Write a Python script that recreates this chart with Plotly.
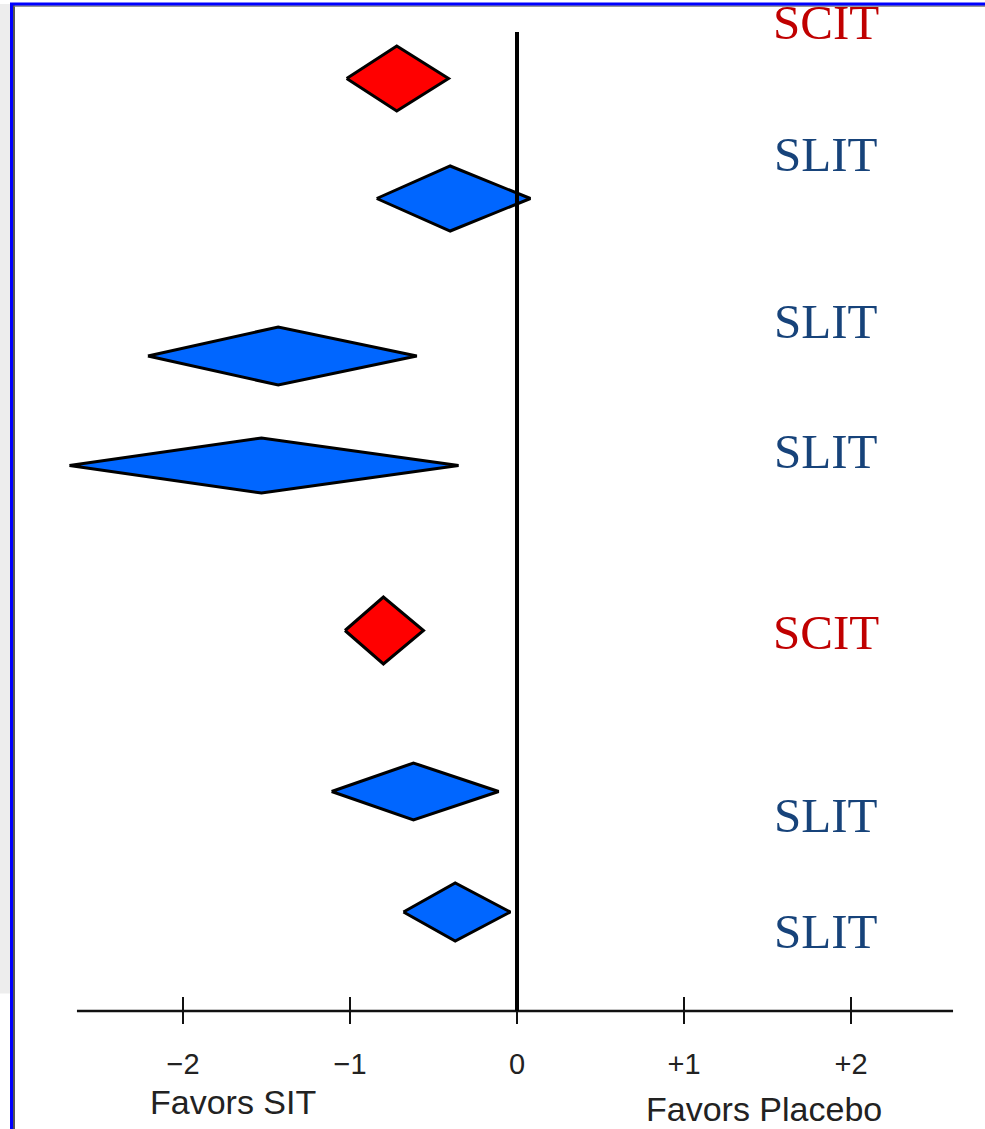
import plotly.graph_objects as go

# Pooled effect sizes (standardised mean difference) with 95% CI for each study group
groups = ["SCIT", "SLIT", "SLIT", "SLIT", "SCIT", "SLIT", "SLIT"]
estimate = [-0.72, -0.40, -1.43, -1.53, -0.80, -0.62, -0.37]
ci_low = [-1.02, -0.84, -2.21, -2.68, -1.03, -1.11, -0.68]
ci_high = [-0.41, 0.08, -0.60, -0.35, -0.56, -0.11, -0.04]

tick_vals = [-2, -1, 0, 1, 2]
tick_text = ["\u22122", "\u22121", "0", "+1", "+2"]

# Layout: vertical placement of each diamond / label (y axis runs top→bottom)
row_y = [0.785, 1.985, 3.56, 4.655, 6.305, 7.915, 9.12]
half_h = [0.325, 0.325, 0.29, 0.275, 0.335, 0.285, 0.29]
label_y = [0.22, 1.54, 3.21, 4.51, 6.32, 8.15, 9.31]
label_x = 1.85
axis_y = 10.11

fill_colors = {"SCIT": "#FF0000", "SLIT": "#0066FF"}
text_colors = {"SCIT": "#C00000", "SLIT": "#17437A"}

fig = go.Figure()

for g, est, lo, hi, yc, h in zip(groups, estimate, ci_low, ci_high, row_y, half_h):
    fig.add_trace(go.Scatter(
        x=[lo, est, hi, est, lo],
        y=[yc, yc - h, yc, yc + h, yc],
        mode="lines", fill="toself", fillcolor=fill_colors[g],
        line=dict(color="black", width=3),
        hoverinfo="skip", showlegend=False,
    ))

shapes = []
# horizontal effect axis
shapes.append(dict(type="line", xref="x", yref="y", x0=-2.635, x1=2.611,
                   y0=axis_y, y1=axis_y, line=dict(color="#111", width=2.5)))
# tick marks crossing the axis
for t in tick_vals:
    shapes.append(dict(type="line", xref="x", yref="y", x0=t, x1=t,
                       y0=axis_y - 0.14, y1=axis_y + 0.13,
                       line=dict(color="#111", width=2)))
# line of no effect
shapes.append(dict(type="line", xref="x", yref="y", x0=0, x1=0,
                   y0=0.32, y1=axis_y, line=dict(color="#000", width=4)))

# slide frame: light band at the left, blue border with dark inner edge
shapes += [
    dict(type="rect", xref="paper", yref="paper", x0=0, x1=10 / 985,
         y0=0.12, y1=1 - 4 / 1129, fillcolor="#EDEDED", line=dict(width=0), layer="below"),
    dict(type="line", xref="paper", yref="paper", x0=14 / 985, x1=14 / 985,
         y0=0, y1=1 - 5 / 1129, line=dict(color="#555", width=2)),
    dict(type="line", xref="paper", yref="paper", x0=14 / 985, x1=1,
         y0=1 - 6 / 1129, y1=1 - 6 / 1129, line=dict(color="#777", width=1.5)),
    dict(type="line", xref="paper", yref="paper", x0=11.5 / 985, x1=11.5 / 985,
         y0=0, y1=1 - 3 / 1129, line=dict(color="#0000FF", width=3)),
    dict(type="line", xref="paper", yref="paper", x0=10 / 985, x1=1,
         y0=1 - 4 / 1129, y1=1 - 4 / 1129, line=dict(color="#0000FF", width=3)),
]

annotations = []
for g, ly in zip(groups, label_y):
    annotations.append(dict(x=label_x, y=ly, xref="x", yref="y", text=g,
                            showarrow=False, xanchor="center", yanchor="middle",
                            font=dict(family="Liberation Serif", size=49,
                                      color=text_colors[g])))
annotations.append(dict(x=-1.70, y=11.02, xref="x", yref="y", text="Favors SIT",
                        showarrow=False, xanchor="center", yanchor="middle",
                        font=dict(family="Liberation Sans", size=34, color="#222")))
annotations.append(dict(x=1.48, y=11.09, xref="x", yref="y", text="Favors Placebo",
                        showarrow=False, xanchor="center", yanchor="middle",
                        font=dict(family="Liberation Sans", size=34, color="#222")))

fig.update_layout(
    width=985, height=1129,
    margin=dict(l=0, r=0, t=0, b=0),
    paper_bgcolor="white", plot_bgcolor="white",
    shapes=shapes, annotations=annotations,
    xaxis=dict(range=[-517 / 167, 468 / 167], domain=[0, 1],
               anchor="free", position=(1129 - 1011) / 1129,
               tickvals=tick_vals, ticktext=tick_text, ticks="",
               showgrid=False, zeroline=False, showline=False,
               ticklabelstandoff=33, automargin=False,
               tickfont=dict(family="Liberation Sans", size=29, color="#222")),
    yaxis=dict(range=[11.29, 0], domain=[0, 1], visible=False,
               showgrid=False, zeroline=False),
)

fig.write_html("out.html")
